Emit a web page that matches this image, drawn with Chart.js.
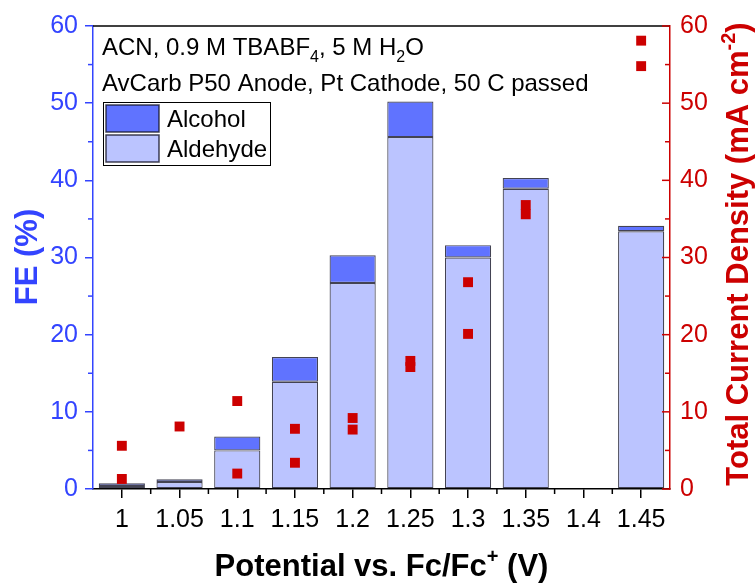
<!DOCTYPE html>
<html>
<head>
<meta charset="utf-8">
<script src="https://cdn.jsdelivr.net/npm/chart.js@4/dist/chart.umd.min.js"></script>
<style>
  html, body { margin: 0; padding: 0; background: #fff; }
  #wrap { width: 755px; height: 583px; }
</style>
</head>
<body>
<div id="wrap"><canvas id="feChart"></canvas></div>
<script>
// Potentials (V vs Fc/Fc+) and measured values
const potentials = ['1', '1.05', '1.1', '1.15', '1.2', '1.25', '1.3', '1.35', '1.4', '1.45'];
const aldehydeFE = [0.4, 0.9, 5.0, 13.9, 26.7, 45.6, 30.0, 38.9, null, 33.4];
const alcoholFE = [0.35, 0.35, 1.8, 3.2, 3.6, 4.6, 1.6, 1.4, null, 0.7];
const currentRunA = [5.6, 8.1, 11.4, 7.8, 9.2, 16.6, 26.8, 36.8, null, 58.1];
const currentRunB = [1.3, null, 2.0, 3.4, 7.7, 15.8, 20.1, 35.6, null, 54.8];
const feTicks = [0, 10, 20, 30, 40, 50, 60];
const currentTicks = [0, 10, 20, 30, 40, 50, 60];

const FONT = "'Liberation Sans', Arial, sans-serif";
const BLUE = '#3344ff';
const RED = '#cc0000';
const ALCOHOL = '#6073ff';
const ALDEHYDE = '#bbc4ff';
const EDGE = 'rgba(20, 20, 40, 0.8)';

// Draw a line of text made of runs, some of them sub- or superscript
function drawRuns(ctx, runs, x, y, size, bold, align) {
    const fontFor = (kind) => (bold ? 'bold ' : '') + (kind ? Math.round(size * 0.65) : size) + 'px ' + FONT;
    let total = 0;
    runs.forEach(r => { ctx.font = fontFor(r[1]); total += ctx.measureText(r[0]).width; });
    let cx = align === 'center' ? x - total / 2 : x;
    ctx.textAlign = 'left';
    ctx.textBaseline = 'alphabetic';
    runs.forEach(r => {
        ctx.font = fontFor(r[1]);
        const dy = r[1] === 'sub' ? size * 0.3 : (r[1] === 'sup' ? -size * 0.42 : 0);
        ctx.fillText(r[0], cx, y + dy);
        cx += ctx.measureText(r[0]).width;
    });
}

// Minor ticks, frame, titles, notes and legend
const decorPlugin = {
    id: 'decor',
    afterDraw(chart) {
        const ctx = chart.ctx;
        const area = chart.chartArea;
        const x = chart.scales.x;
        const y = chart.scales.y;
        const y1 = chart.scales.y1;
        ctx.save();

        // top frame
        ctx.strokeStyle = '#000';
        ctx.lineWidth = 1.5;
        ctx.beginPath();
        ctx.moveTo(area.left, area.top);
        ctx.lineTo(area.right, area.top);
        ctx.stroke();

        // x minor ticks at category boundaries
        for (let i = 1; i < potentials.length; i++) {
            const px = (x.getPixelForValue(i - 1) + x.getPixelForValue(i)) / 2;
            ctx.beginPath();
            ctx.moveTo(px, area.bottom);
            ctx.lineTo(px, area.bottom + 5);
            ctx.stroke();
        }

        // left minor ticks (outward)
        ctx.strokeStyle = BLUE;
        for (let i = 1; i < feTicks.length; i++) {
            const py = y.getPixelForValue((feTicks[i - 1] + feTicks[i]) / 2);
            ctx.beginPath();
            ctx.moveTo(area.left - 5, py);
            ctx.lineTo(area.left, py);
            ctx.stroke();
        }

        // right ticks (inward)
        ctx.strokeStyle = RED;
        currentTicks.forEach((v, i) => {
            const py = y1.getPixelForValue(v);
            ctx.beginPath();
            ctx.moveTo(area.right - 8, py);
            ctx.lineTo(area.right, py);
            ctx.stroke();
            if (i > 0) {
                const pm = y1.getPixelForValue((currentTicks[i - 1] + v) / 2);
                ctx.beginPath();
                ctx.moveTo(area.right - 5, pm);
                ctx.lineTo(area.right, pm);
                ctx.stroke();
            }
        });

        // axis titles
        ctx.fillStyle = '#000';
        drawRuns(ctx, [['Potential vs. Fc/Fc', ''], ['+', 'sup'], [' (V)', '']],
            (area.left + area.right) / 2, 576, 31, true, 'center');

        ctx.save();
        ctx.translate(26, 257);
        ctx.rotate(-Math.PI / 2);
        ctx.fillStyle = BLUE;
        drawRuns(ctx, [['FE (%)', '']], 0, 11, 31, true, 'center');
        ctx.restore();

        ctx.save();
        ctx.translate(737, 254);
        ctx.rotate(-Math.PI / 2);
        ctx.fillStyle = RED;
        drawRuns(ctx, [['Total Current Density (mA cm', ''], ['-2', 'sup'], [')', '']], 0, 11, 31, true, 'center');
        ctx.restore();

        // notes
        ctx.fillStyle = '#000';
        drawRuns(ctx, [['ACN, 0.9 M TBABF', ''], ['4', 'sub'], [', 5 M H', ''], ['2', 'sub'], ['O', '']],
            102, 55, 24, false, 'left');
        drawRuns(ctx, [['AvCarb P50 Anode, Pt Cathode, 50 C passed', '']], 102, 91, 24, false, 'left');

        // legend
        ctx.strokeStyle = '#000';
        ctx.lineWidth = 1;
        ctx.strokeRect(103.5, 102.5, 167, 63);
        ctx.lineWidth = 1.5;
        [[ALCOHOL, 'Alcohol', 105], [ALDEHYDE, 'Aldehyde', 135]].forEach(item => {
            ctx.fillStyle = item[0];
            ctx.fillRect(106, item[2], 53, 27);
            ctx.strokeStyle = EDGE;
            ctx.strokeRect(106, item[2], 53, 27);
            ctx.fillStyle = '#000';
            drawRuns(ctx, [[item[1], '']], 167, item[2] + 22, 24, false, 'left');
        });

        ctx.restore();
    }
};

const ctx = document.getElementById('feChart').getContext('2d');

new Chart(ctx, {
    type: 'bar',
    data: {
        labels: potentials,
        datasets: [
            {
                label: 'Aldehyde',
                data: aldehydeFE,
                backgroundColor: ALDEHYDE,
                borderColor: EDGE,
                borderWidth: 1.2,
                borderSkipped: false,
                yAxisID: 'y',
                stack: 'fe',
                order: 2
            },
            {
                label: 'Alcohol',
                data: alcoholFE,
                backgroundColor: ALCOHOL,
                borderColor: EDGE,
                borderWidth: 1.2,
                borderSkipped: false,
                yAxisID: 'y',
                stack: 'fe',
                order: 2
            },
            {
                type: 'line',
                label: 'Current A',
                data: currentRunA,
                yAxisID: 'y1',
                showLine: false,
                pointStyle: 'rect',
                pointRadius: 7,
                pointBorderWidth: 0,
                pointBackgroundColor: RED,
                borderColor: RED,
                order: 0
            },
            {
                type: 'line',
                label: 'Current B',
                data: currentRunB,
                yAxisID: 'y1',
                showLine: false,
                pointStyle: 'rect',
                pointRadius: 7,
                pointBorderWidth: 0,
                pointBackgroundColor: RED,
                borderColor: RED,
                order: 0
            }
        ]
    },
    options: {
        responsive: true,
        maintainAspectRatio: false,
        animation: false,
        layout: { padding: { top: 26, left: 0, right: 0, bottom: 0 } },
        datasets: {
            bar: { categoryPercentage: 1, barPercentage: 0.8 }
        },
        plugins: {
            legend: { display: false },
            tooltip: { enabled: false }
        },
        scales: {
            x: {
                type: 'category',
                offset: true,
                stacked: true,
                grid: { offset: false, drawOnChartArea: false, drawTicks: true, tickLength: 9, color: '#000', lineWidth: 1.5 },
                border: { color: '#000', width: 1.5 },
                ticks: { color: '#000', font: { family: FONT, size: 25 }, padding: 7, maxRotation: 0, autoSkip: false },
                afterFit: s => { s.height = 94; }
            },
            y: {
                position: 'left',
                min: 0,
                max: 60,
                stacked: true,
                afterBuildTicks: s => { s.ticks = feTicks.map(v => ({ value: v })); },
                grid: { drawOnChartArea: false, drawTicks: true, tickLength: 8, color: BLUE, lineWidth: 1.5 },
                border: { color: BLUE, width: 1.5 },
                ticks: { color: BLUE, font: { family: FONT, size: 25 }, padding: 7 },
                afterFit: s => { s.width = 93; }
            },
            y1: {
                position: 'right',
                min: 0,
                max: 60,
                afterBuildTicks: s => { s.ticks = currentTicks.map(v => ({ value: v })); },
                grid: { drawOnChartArea: false, drawTicks: false },
                border: { color: RED, width: 1.5 },
                ticks: { color: RED, font: { family: FONT, size: 25 }, padding: 10 },
                afterFit: s => { s.width = 85; }
            }
        }
    },
    plugins: [decorPlugin]
});
</script>
</body>
</html>
